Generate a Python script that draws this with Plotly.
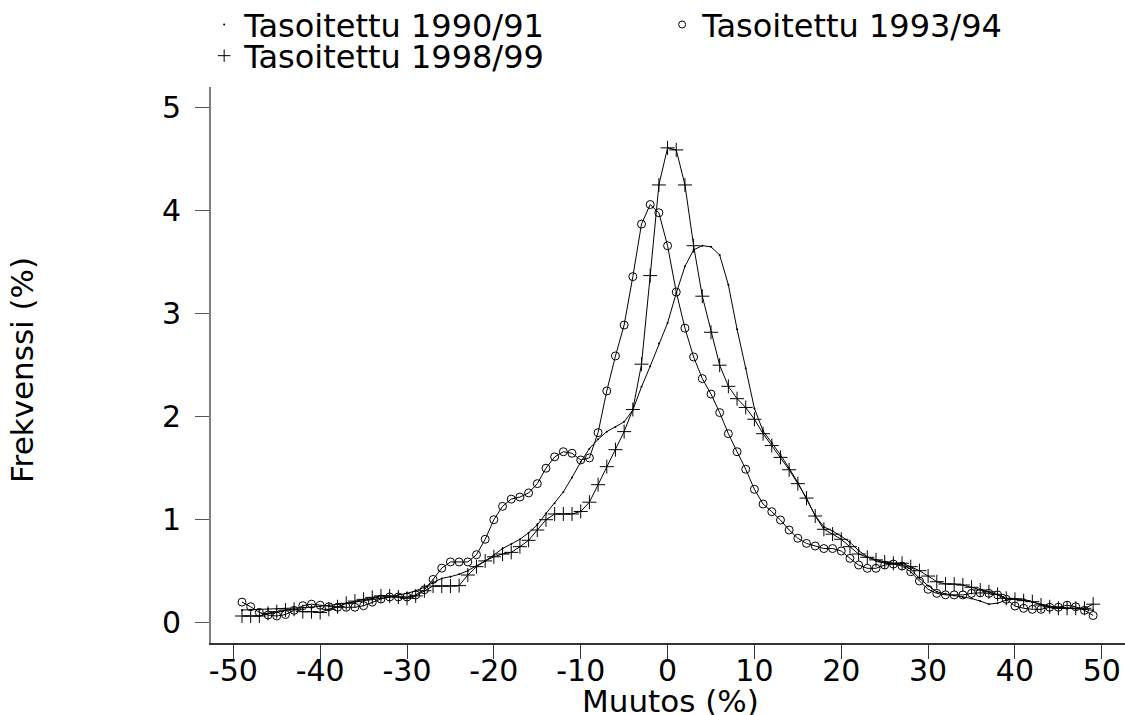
import plotly.graph_objects as go

# Change (%) grid shared by the three smoothed distributions
muutos = list(range(-49, 50))

# Frequency (%) per change value
tasoitettu_1990_91 = [
    0.123, 0.126, 0.126, 0.130, 0.133, 0.136, 0.140, 0.146, 0.152, 0.159,
    0.168, 0.178, 0.188, 0.200, 0.214, 0.227, 0.240, 0.250, 0.270, 0.285,
    0.310, 0.343, 0.390, 0.430, 0.447, 0.470, 0.505, 0.550, 0.600, 0.657,
    0.720, 0.764, 0.810, 0.873, 0.950, 1.060, 1.160, 1.270, 1.410, 1.560,
    1.690, 1.780, 1.855, 1.900, 1.950, 2.065, 2.290, 2.490, 2.710, 2.910,
    3.200, 3.460, 3.620, 3.660, 3.650, 3.570, 3.280, 2.850, 2.470, 2.080,
    1.860, 1.750, 1.630, 1.500, 1.360, 1.200, 1.040, 0.930, 0.890, 0.840,
    0.780, 0.700, 0.640, 0.600, 0.580, 0.570, 0.565, 0.520, 0.430, 0.360,
    0.300, 0.280, 0.265, 0.250, 0.235, 0.210, 0.180, 0.190, 0.220, 0.235,
    0.230, 0.200, 0.180, 0.160, 0.150, 0.140, 0.135, 0.130, 0.120,
]

tasoitettu_1993_94 = [
    0.200, 0.155, 0.100, 0.075, 0.065, 0.080, 0.120, 0.165, 0.180, 0.170,
    0.155, 0.150, 0.150, 0.150, 0.165, 0.200, 0.230, 0.250, 0.250, 0.250,
    0.270, 0.320, 0.420, 0.530, 0.590, 0.590, 0.590, 0.660, 0.810, 1.000,
    1.130, 1.200, 1.220, 1.260, 1.350, 1.500, 1.610, 1.660, 1.645, 1.580,
    1.600, 1.845, 2.250, 2.590, 2.890, 3.360, 3.870, 4.060, 3.980, 3.660,
    3.210, 2.860, 2.580, 2.370, 2.220, 2.040, 1.835, 1.660, 1.490, 1.295,
    1.152, 1.078, 0.997, 0.900, 0.820, 0.770, 0.745, 0.720, 0.720, 0.696,
    0.625, 0.560, 0.528, 0.528, 0.560, 0.570, 0.550, 0.495, 0.405, 0.324,
    0.285, 0.270, 0.270, 0.270, 0.285, 0.290, 0.285, 0.270, 0.227, 0.162,
    0.140, 0.130, 0.130, 0.150, 0.150, 0.170, 0.155, 0.120, 0.070,
]

tasoitettu_1998_99 = [
    0.065, 0.065, 0.065, 0.091, 0.107, 0.123, 0.130, 0.107, 0.107, 0.100,
    0.130, 0.155, 0.188, 0.210, 0.227, 0.246, 0.260, 0.260, 0.250, 0.237,
    0.260, 0.310, 0.356, 0.356, 0.356, 0.360, 0.463, 0.544, 0.600, 0.640,
    0.667, 0.683, 0.738, 0.800, 0.900, 1.000, 1.056, 1.056, 1.056, 1.080,
    1.170, 1.340, 1.515, 1.680, 1.855, 2.070, 2.510, 3.370, 4.250, 4.610,
    4.590, 4.250, 3.660, 3.170, 2.820, 2.500, 2.295, 2.175, 2.090, 1.975,
    1.835, 1.720, 1.605, 1.485, 1.350, 1.210, 1.036, 0.907, 0.860, 0.810,
    0.738, 0.667, 0.635, 0.610, 0.590, 0.577, 0.577, 0.544, 0.505, 0.453,
    0.398, 0.376, 0.375, 0.366, 0.344, 0.317, 0.300, 0.275, 0.237, 0.227,
    0.214, 0.204, 0.172, 0.155, 0.140, 0.140, 0.140, 0.140, 0.180,
]

x_ticks = [-50, -40, -30, -20, -10, 0, 10, 20, 30, 40, 50]
y_ticks = [0, 1, 2, 3, 4, 5]

FONT = "DejaVu Sans"
INK = "black"

series = [
    ("Tasoitettu 1990/91", tasoitettu_1990_91,
     dict(symbol="circle", size=2, color=INK), "legend",
     dict(symbol="circle", size=2, color=INK)),
    ("Tasoitettu 1993/94", tasoitettu_1993_94,
     dict(symbol="circle-open", size=8, color=INK, line=dict(width=1, color=INK)), "legend",
     dict(symbol="circle-open", size=7, color=INK, line=dict(width=1, color=INK))),
    ("Tasoitettu 1998/99", tasoitettu_1998_99,
     dict(symbol="cross-thin-open", size=10, color=INK, line=dict(width=1, color=INK)), "legend2",
     dict(symbol="cross-thin-open", size=9, color=INK, line=dict(width=1, color=INK))),
]

fig = go.Figure()
for name, values, marker, legend_id, legend_marker in series:
    fig.add_trace(go.Scatter(
        x=muutos, y=values, mode="lines+markers", name=name,
        line=dict(color=INK, width=1), marker=marker,
        showlegend=False, cliponaxis=False,
    ))
    # legend entry shows the marker only
    fig.add_trace(go.Scatter(
        x=[None], y=[None], mode="markers", name=name,
        marker=legend_marker, legend=legend_id, showlegend=True,
    ))

legend_font = dict(family=FONT, size=32, color=INK)

fig.update_layout(
    width=1125, height=715,
    margin=dict(l=211, r=0, t=87, b=72, autoexpand=False),
    paper_bgcolor="white", plot_bgcolor="white",
    font=dict(family=FONT, color=INK, size=29),
    legend=dict(
        orientation="h", x=-0.0075, xanchor="left", y=1.112, yanchor="middle",
        entrywidth=413, entrywidthmode="pixels",
        font=legend_font, bgcolor="rgba(0,0,0,0)", borderwidth=0,
    ),
    legend2=dict(
        orientation="h", x=-0.0075, xanchor="left", y=1.056, yanchor="middle",
        font=legend_font, bgcolor="rgba(0,0,0,0)", borderwidth=0,
    ),
    xaxis=dict(
        range=[-52.57, 52.67], tickmode="array", tickvals=x_ticks,
        ticktext=[str(v) for v in x_ticks],
        showgrid=False, zeroline=False, automargin=False,
        showline=True, linecolor="#333333", linewidth=1.5,
        ticks="outside", ticklen=14, tickwidth=1, tickcolor="#333333",
        tickfont=dict(family=FONT, size=30, color=INK),
        ticklabelstandoff=-14,
    ),
    yaxis=dict(
        range=[-0.197, 5.201], tickmode="array", tickvals=y_ticks,
        ticktext=[str(v) for v in y_ticks],
        showgrid=False, zeroline=False, automargin=False,
        showline=True, linecolor="#808080", linewidth=2,
        ticks="outside", ticklen=14, tickwidth=1, tickcolor="#555555",
        tickfont=dict(family=FONT, size=30, color=INK),
        ticklabelstandoff=8,
    ),
    annotations=[
        dict(text="Muutos (%)", xref="paper", yref="paper", x=0.5, y=0,
             xanchor="center", yanchor="middle", xshift=2, yshift=-58,
             showarrow=False, font=dict(family=FONT, size=31, color=INK)),
        dict(text="Frekvenssi (%)", xref="paper", yref="paper", x=0, y=0.491,
             xanchor="center", yanchor="middle", xshift=-189, textangle=-90,
             showarrow=False, font=dict(family=FONT, size=31, color=INK)),
    ],
)

fig.write_html("out.html")
